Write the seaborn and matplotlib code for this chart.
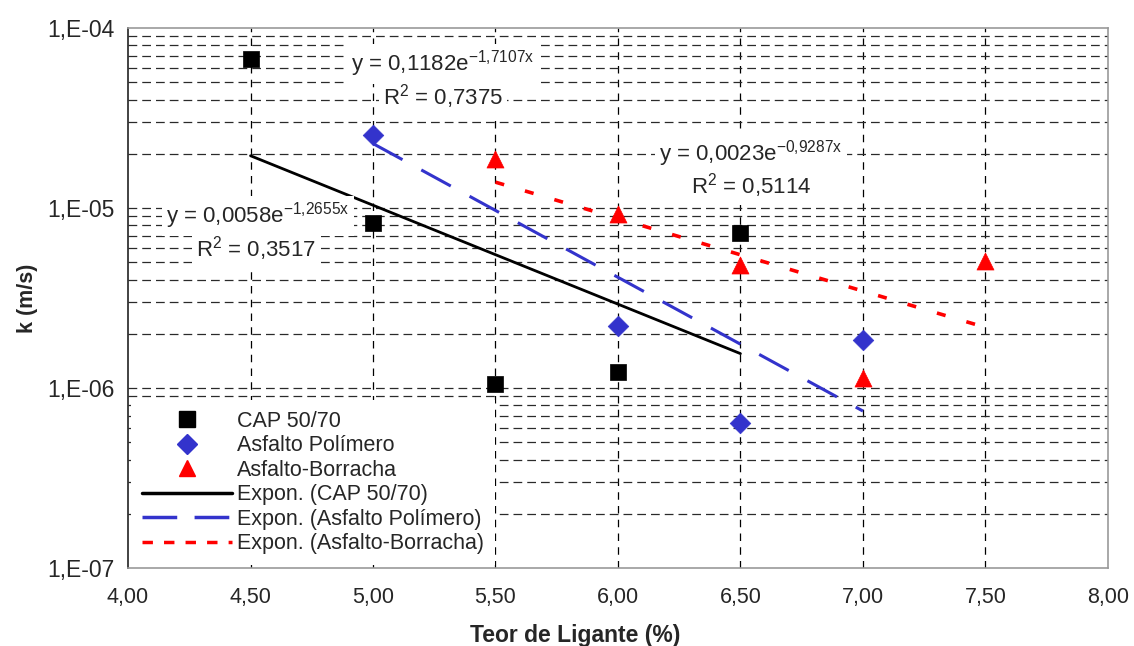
import numpy as np
import pandas as pd
import matplotlib
matplotlib.use("Agg")
import matplotlib.pyplot as plt
import seaborn as sns
from matplotlib.lines import Line2D
from matplotlib.ticker import FixedLocator, FuncFormatter, LogLocator, NullFormatter

# ---- data ----
cap_x = [4.5, 5.0, 5.5, 6.0, 6.5]
cap_y = [6.7e-5, 8.3e-6, 1.05e-6, 1.22e-6, 7.3e-6]
pol_x = [5.0, 6.0, 6.5, 7.0]
pol_y = [2.55e-5, 2.22e-6, 6.4e-7, 1.85e-6]
bor_x = [5.5, 6.0, 6.5, 7.0, 7.5]
bor_y = [1.86e-5, 9.3e-6, 4.8e-6, 1.13e-6, 5.1e-6]

# printed trendline coefficients (y = a*e^(b x)), R², and x-ranges
cap_fit = (0.0058, -1.2655, 0.3517, 4.5, 6.5)
pol_fit = (0.1182, -1.7107, 0.7375, 5.0, 7.0)
bor_fit = (0.0023, -0.9287, 0.5114, 5.5, 7.5)

series = ["CAP 50/70", "Asfalto Polímero", "Asfalto-Borracha"]
colors = ["#000000", "#3333CC", "#FF0000"]
markers = ["s", "D", "^"]

sns.set_style("white")
plt.rcParams["font.family"] = ["Liberation Sans", "DejaVu Sans"]
plt.rcParams["mathtext.fontset"] = "custom"
plt.rcParams["mathtext.rm"] = "Liberation Sans"
plt.rcParams["mathtext.it"] = "Liberation Sans"

FS = 15.5

fig = plt.figure(figsize=(11.34, 6.46), dpi=100)
ax = fig.add_axes([0.1129, 0.1207, 0.977 - 0.1129, 0.9567 - 0.1207])

ax.set_yscale("log")
ax.set_xlim(4.0, 8.0)
ax.set_ylim(1e-7, 1e-4)

# grid
for v in np.arange(4.5, 8.0, 0.5):
    ax.axvline(v, color="black", lw=0.9, ls=(0, (6, 5)), zorder=0)
for dec in [1e-7, 1e-6, 1e-5]:
    for m in range(1, 10):
        val = dec * m
        if 1e-7 < val < 1e-4:
            ax.axhline(val, color="#2a2a2a", lw=0.9, ls=(0, (7, 4)), zorder=0)

df_sc = pd.DataFrame({
    "x": cap_x + pol_x + bor_x,
    "y": cap_y + pol_y + bor_y,
    "s": [series[0]] * len(cap_x) + [series[1]] * len(pol_x) + [series[2]] * len(bor_x),
})

# trend lines
fits = [cap_fit, pol_fit, bor_fit]
styles = ["-", (0, (11, 7)), (0, (2.5, 6))]
widths = [2.0, 2.2, 2.6]
rows = []
for name, (a, b, r2, x0, x1) in zip(series, fits):
    xs = np.linspace(x0, x1, 60)
    for xv in xs:
        rows.append((xv, a * np.exp(b * xv), name))
df_ln = pd.DataFrame(rows, columns=["x", "y", "s"])
for name, c, st, w in zip(series, colors, styles, widths):
    sub = df_ln[df_ln["s"] == name]
    sns.lineplot(data=sub, x="x", y="y", color=c, lw=w, ls=st, ax=ax, zorder=3, legend=False)

for name, c, m in zip(series, colors, markers):
    sub = df_sc[df_sc["s"] == name]
    sns.scatterplot(data=sub, x="x", y="y", color=c, marker=m,
                    s={"s": 130, "D": 110, "^": 150}[m], edgecolor=c, linewidth=0.5,
                    ax=ax, zorder=4, legend=False)

# axes formatting
ax.xaxis.set_major_locator(FixedLocator(np.arange(4.0, 8.01, 0.5)))
ax.xaxis.set_major_formatter(FuncFormatter(lambda v, p: f"{v:.2f}".replace(".", ",")))
ax.yaxis.set_major_locator(FixedLocator([1e-7, 1e-6, 1e-5, 1e-4]))
ax.yaxis.set_major_formatter(FuncFormatter(lambda v, p: "1,E-%02d" % round(-np.log10(v))))
ax.yaxis.set_minor_locator(LogLocator(base=10, subs=[]))
ax.yaxis.set_minor_formatter(NullFormatter())
ax.tick_params(axis="x", direction="in", length=5, labelsize=FS, pad=14, color="#444444")
ax.tick_params(axis="y", direction="out", length=6, labelsize=16.5, pad=4, color="black", which="major")
ax.tick_params(axis="y", which="minor", length=0)
ax.set_xlabel("Teor de Ligante (%)", fontsize=16.5, fontweight="bold")
ax.xaxis.set_label_coords(0.456, -0.103)
ax.set_ylabel("k (m/s)", fontsize=FS, fontweight="bold", labelpad=6)

for sp in ["top", "right", "bottom"]:
    ax.spines[sp].set_color("#999999")
    ax.spines[sp].set_linewidth(1.2)
ax.spines["left"].set_color("#222222")
ax.spines["left"].set_linewidth(1.2)

# equations
def eq(a, b):
    return ("y = " + f"{a:.4f}".replace(".", ",") + "e" +
            r"$^{\mathregular{" + f"{b:.4f}".replace(".", "{,}") + "x}}$")

def r2txt(r):
    return r"R$^{\mathregular{2}}$ = " + f"{r:.4f}".replace(".", ",")

bbox = dict(facecolor="white", edgecolor="none", pad=3)
for (a, b, r2, x0, x1), (ex, ey), (rx, ry) in zip(
        fits,
        [(258, 216), (443, 64), (751, 154)],
        [(256, 249), (443, 97), (751, 186)]):
    fig.text(ex / 1134, 1 - ey / 646, eq(a, b), ha="center", va="center", fontsize=16, bbox=bbox, zorder=6)
    fig.text(rx / 1134, 1 - ry / 646, r2txt(r2), ha="center", va="center", fontsize=16, bbox=bbox, zorder=6)

# legend
handles = [
    Line2D([], [], ls="none", marker="s", color=colors[0], markersize=11),
    Line2D([], [], ls="none", marker="D", color=colors[1], markersize=10),
    Line2D([], [], ls="none", marker="^", color=colors[2], markersize=12),
    Line2D([], [], color=colors[0], lw=2.5, ls="-"),
    Line2D([], [], color=colors[1], lw=2.5, ls=(0, (10, 5))),
    Line2D([], [], color=colors[2], lw=2.5, ls=(0, (3, 3.2))),
]
labels = series + ["Expon. (" + s + ")" for s in series]
leg = ax.legend(handles, labels, loc="lower left", bbox_to_anchor=(0.0, 0.0), fontsize=FS,
                frameon=True, fancybox=False, framealpha=1, edgecolor="white",
                handlelength=4.2, handletextpad=0.2, labelspacing=0.16, borderpad=0.5,
                borderaxespad=0.15)
leg.get_frame().set_linewidth(0)
leg.set_zorder(5)

fig.savefig("out.png", dpi=100)
